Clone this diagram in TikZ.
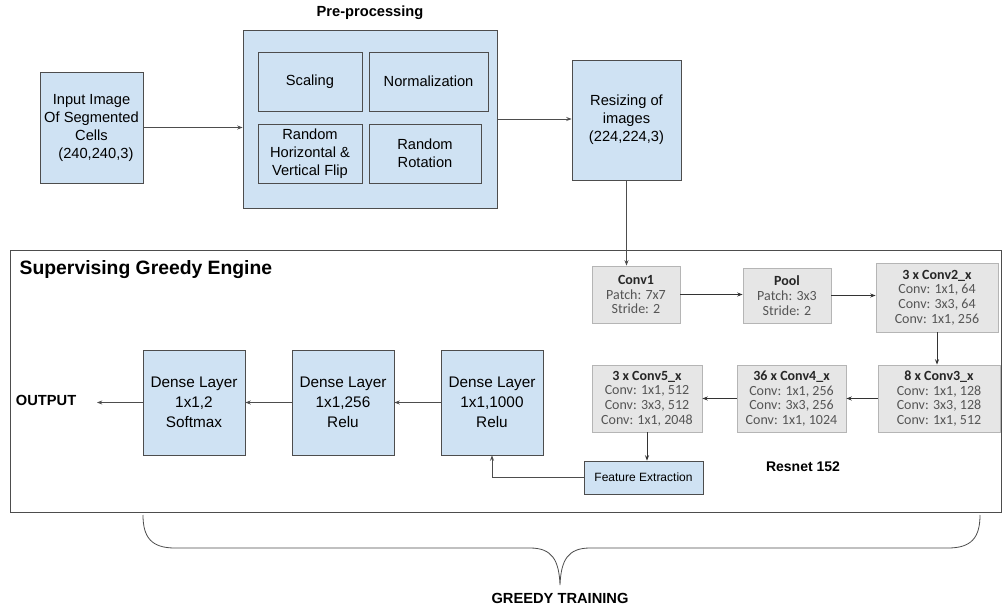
\documentclass[tikz,border=0pt]{standalone}
\usepackage{fontspec}
\setmainfont{Liberation Sans}
\newfontfamily\carlito{Carlito}
\usetikzlibrary{arrows.meta}
\definecolor{boxblue}{HTML}{CFE2F3}
\definecolor{boxgray}{HTML}{E6E6E6}
\definecolor{edgegray}{HTML}{B5B5B5}
\definecolor{edgedark}{HTML}{4D4D4D}
\definecolor{restext}{HTML}{555555}

\begin{document}
\begin{tikzpicture}[x=0.75pt, y=-0.75pt, >={Stealth[length=4pt,width=3pt]},
  blue box/.style={rectangle, draw=edgedark, fill=boxblue, line width=0.6pt, align=center, inner sep=0pt, font=\fontsize{11}{13.5}\selectfont},
  dense box/.style={blue box, minimum width=76.5pt, minimum height=78.75pt, font=\fontsize{11.5}{15}\selectfont},
  res box/.style={rectangle, draw=edgegray, fill=boxgray, line width=0.6pt, align=center, inner sep=0pt, text=restext, font=\carlito\fontsize{10.5}{11}\selectfont},
  label text/.style={font=\bfseries\fontsize{11}{12}\selectfont}]
\useasboundingbox (0,0) rectangle (1003,610);

% top row
\node[blue box, minimum width=77.25pt, minimum height=83.25pt] (inp) at (91.5,127.5) {Input Image\\Of Segmented\\Cells\\\hspace*{0.6em}(240,240,3)};
\node[blue box, minimum width=190.5pt, minimum height=133.5pt] (pre) at (370,119) {};
\node[label text] (prelabel) at (370,13) {Pre-processing};
\node[blue box, minimum width=78pt, minimum height=44.25pt] (scal) at (310,81.5) {Scaling};
\node[blue box, minimum width=89.25pt, minimum height=44.25pt] (norm) at (428.5,81.5) {Normalization};
\node[blue box, minimum width=78pt, minimum height=44.25pt] (flip) at (310,153.5) {Random\\Horizontal \&\\Vertical Flip};
\node[blue box, minimum width=84pt, minimum height=44.25pt] (rot) at (425,153.5) {Random\\Rotation};
\node[blue box, minimum width=81.75pt, minimum height=90pt] (resz) at (626.5,120) {Resizing of\\images\\(224,224,3)};

% engine
\node[rectangle, draw=edgedark, line width=0.6pt, minimum width=743.25pt, minimum height=196.5pt] (engine) at (505.5,381) {};
\node[anchor=west, font=\bfseries\fontsize{14.5}{16}\selectfont] (title) at (15,270) {Supervising Greedy Engine};

% resnet
\node[res box, minimum width=66pt, minimum height=42.75pt] (conv1) at (636,294.5) {\textcolor{black!85}{\textbf{Conv1}}\\Patch: 7x7\\Stride: 2};
\node[res box, minimum width=66pt, minimum height=41.25pt] (pool) at (787,295.5) {\textcolor{black!85}{\textbf{Pool}}\\Patch: 3x3\\Stride: 2};
\node[res box, minimum width=91.5pt, minimum height=51.75pt] (c2) at (937,297.5) {\textcolor{black!85}{\textbf{3 x Conv2\_x}}\\Conv: 1x1, 64\\Conv: 3x3, 64\\Conv: 1x1, 256};
\node[res box, minimum width=91.5pt, minimum height=50.25pt] (c3) at (939,398.5) {\textcolor{black!85}{\textbf{8 x Conv3\_x}}\\Conv: 1x1, 128\\Conv: 3x3, 128\\Conv: 1x1, 512};
\node[res box, minimum width=81.75pt, minimum height=50.25pt] (c4) at (791.5,398.5) {\textcolor{black!85}{\textbf{36 x Conv4\_x}}\\Conv: 1x1, 256\\Conv: 3x3, 256\\Conv: 1x1, 1024};
\node[res box, minimum width=82.5pt, minimum height=50.25pt] (c5) at (647,398.5) {\textcolor{black!85}{\textbf{3 x Conv5\_x}}\\Conv: 1x1, 512\\Conv: 3x3, 512\\Conv: 1x1, 2048};
\node[blue box, minimum width=89.25pt, minimum height=24.75pt, font=\fontsize{9}{10}\selectfont] (fe) at (643.5,477.5) {Feature Extraction};
\node[font=\bfseries\fontsize{10.5}{12}\selectfont] (resnet) at (803,467) {Resnet 152};

% dense layers
\node[dense box] (d1000) at (492,402.5) {Dense Layer\\1x1,1000\\Relu};
\node[dense box] (d256) at (343,402.5) {Dense Layer\\1x1,256\\Relu};
\node[dense box] (d2) at (194,402.5) {Dense Layer\\1x1,2\\Softmax};
\node[label text, anchor=east] (out) at (81,400) {OUTPUT};

% connectors
\draw[->, edgedark, line width=0.6pt] (inp.east) -- (pre.west |- inp.east);
\draw[->, edgedark, line width=0.6pt] (pre.east) -- (resz.west |- pre.east);
\draw[->, edgedark, line width=0.6pt] (resz.south) -- (resz.south |- conv1.north);
\draw[->, black!80, line width=0.6pt] (conv1.east) -- (conv1.east -| pool.west);
\draw[->, black!80, line width=0.6pt] (pool.east) -- (pool.east -| c2.west);
\draw[->, black!80, line width=0.6pt] (c2.south) -- (c2.south |- c3.north);
\draw[->, black!80, line width=0.6pt] (c3.west) -- (c4.east);
\draw[->, black!80, line width=0.6pt] (c4.west) -- (c5.east);
\draw[->, black!80, line width=0.6pt] (c5.south) -- (c5.south |- fe.north);
\draw[->, edgedark, line width=0.6pt] (fe.west) -| (d1000.south);
\draw[->, edgedark, line width=0.6pt] (d1000.west) -- (d256.east);
\draw[->, edgedark, line width=0.6pt] (d256.west) -- (d2.east);
\draw[->, edgedark, line width=0.6pt] (d2.west) -- ([xshift=12pt]d2.west -| out.east);

% brace
\draw[edgedark, line width=0.6pt] (143,515) .. controls (143,538) and (152,548) .. (175,548) -- (530,548)
  .. controls (552,548) and (559,560) .. (560,585)
  .. controls (561,560) and (568,548) .. (590,548) -- (948,548)
  .. controls (971,548) and (980,538) .. (980,515);
\node[label text] (greedy) at (560,598) {GREEDY TRAINING};
\end{tikzpicture}
\end{document}
